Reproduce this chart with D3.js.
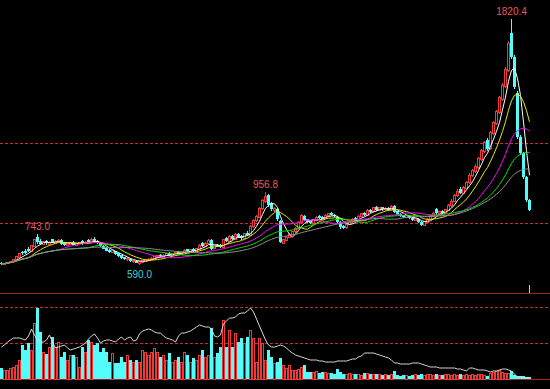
<!DOCTYPE html>
<html><head><meta charset="utf-8">
<script src="https://cdn.jsdelivr.net/npm/d3@7"></script>
<style>html,body{margin:0;padding:0;background:#000;overflow:hidden}svg{display:block}</style>
</head><body><svg id="c" width="550" height="389"></svg>
<script>
const opens=[600,595,598,603,609,618,630,656,660,672,660,685,728,712,695,712,695,718,700,706,714,700,688,694,704,690,697,712,696,716,702,722,712,700,686,674,664,652,660,648,640,628,617,622,607,612,600,604,610,614,618,622,630,640,630,638,650,640,646,656,646,654,668,658,670,660,670,698,684,698,716,672,692,690,680,724,708,736,720,745,734,724,752,740,782,812,830,872,910,938,900,862,872,812,700,714,728,742,756,772,802,836,818,808,800,816,834,830,822,838,850,842,830,806,786,776,792,806,824,812,832,852,840,866,856,880,864,878,866,874,862,886,858,846,838,828,836,826,814,820,806,790,804,818,832,870,846,860,850,864,886,908,936,972,950,974,1002,1036,1058,1080,1118,1158,1214,1172,1250,1300,1352,1420,1484,1562,1750,1630,1450,1230,1150,1030,915];
const highs=[603,602,606,612,622,635,650,662,668,678,690,720,743,722,712,716,710,722,714,720,718,704,700,706,708,702,704,716,708,722,725,728,716,703,690,678,668,665,662,650,642,632,628,624,616,614,610,616,620,624,628,636,642,644,644,650,655,652,656,660,658,668,672,670,674,676,694,704,704,718,722,690,696,694,720,728,738,740,748,750,738,752,758,790,820,838,880,920,956.8,945,906,880,876,816,722,734,748,762,780,810,846,840,822,812,822,836,840,834,846,852,856,846,836,810,790,798,812,826,828,840,852,856,868,872,882,884,882,882,880,878,890,890,862,850,842,842,840,830,826,824,810,812,826,840,856,876,862,864,872,894,918,944,968,980,984,1012,1048,1072,1094,1130,1170,1212,1226,1262,1312,1366,1434,1500,1580,1712,1820.4,1640,1460,1240,1155,1035,920];
const lows=[592,593,596,600,606,615,627,640,645,655,655,680,695,690,690,692,688,698,695,700,690,684,684,690,688,686,693,692,693,700,698,706,695,680,668,658,650,648,642,632,622,614,612,604,602,598,590,600,604,610,614,618,626,626,626,634,636,636,642,642,642,650,654,654,656,656,666,680,680,694,666,668,678,674,676,704,704,716,716,726,716,720,734,736,776,806,826,866,902,880,862,856,812,700,694,710,724,738,752,768,798,810,800,796,796,812,822,818,818,832,836,830,800,772,770,772,788,802,808,808,828,836,836,850,852,860,860,862,860,858,858,850,838,832,826,824,820,812,810,800,786,786,800,814,828,842,842,846,846,860,882,904,930,944,944,968,996,1028,1050,1072,1110,1150,1160,1166,1242,1292,1344,1410,1476,1554,1620,1470,1220,1140,1020,905,858];
const closes=[596,599,604,610,620,632,646,648,652,662,686,716,705,695,708,698,705,702,710,715,694,688,697,703,692,699,701,696,705,704,720,710,698,684,672,662,655,661,646,636,626,618,624,608,612,602,606,612,616,620,625,632,638,630,640,646,640,648,653,647,655,664,658,667,660,672,690,684,700,714,672,686,682,680,716,710,732,722,742,732,724,748,740,784,814,832,874,912,934,892,870,874,818,704,716,730,744,758,774,804,838,816,806,800,818,830,826,822,840,846,840,834,806,780,776,794,808,820,812,834,848,840,862,856,876,866,876,868,874,864,884,856,844,836,830,836,824,816,822,804,792,806,820,834,850,848,858,850,866,888,910,938,960,950,976,1004,1040,1062,1084,1122,1162,1204,1172,1254,1304,1358,1426,1490,1570,1700,1630,1480,1230,1150,1030,915,865];
const volumes=[11,9,9,11,12,14,19,34,29,36,29,56,71,47,27,25,32,42,32,37,22,27,19,24,24,22,12,32,27,39,37,34,36,27,31,27,17,26,16,16,22,17,24,19,17,19,17,29,27,24,27,31,27,22,24,19,26,17,19,22,17,27,24,17,21,19,24,29,22,24,51,22,26,32,59,32,49,32,46,37,41,36,42,49,41,17,41,36,19,29,22,16,17,21,14,11,14,9,9,10,12,14,7,7,7,8,6,7,7,6,6,5,10,7,5,5,6,5,5,5,4,6,6,5,5,5,5,4,5,4,5,8,4,3,4,4,3,4,5,4,5,4,5,5,4,5,4,4,5,5,4,5,4,5,4,5,4,5,4,5,5,4,3,6,7,8,9,7,6,6,8,4,3,3,3,2,2];
const openInterest=[32,34,37,39,41,41,41,40,39,43,50,44,39,37,37,39,44,37,31,32,33,34,31,29,30,31,32,34,36,40,43,45,41,36,38,39,39,38,37,40,42,39,41,42,38,39,45,48,49,50,49,47,46,46,43,41,40,39,37,43,46,46,47,48,50,52,54,53,52,52,50,43,42,44,55,58,61,61,62,65,66,66,68,71,67,60,53,46,39,34,32,32,33,34,33,31,28,26,24,23,22,21,20,19,19,19,18,18,17,17,17,17,18,18,18,18,19,20,20,22,23,26,26,26,26,25,24,23,22,21,19,16,16,15,15,15,15,16,16,16,15,14,13,12,12,12,11,11,11,11,11,11,10,10,9,8,11,11,10,9,9,9,8,7,8,8,9,10,10,9,8,5,2,2,1,1,1];
const maPeriods=[5,10,20,30,40];
const maColors=["#ffffff","#e8e800","#ff00ff","#00e000","#909090"];
const priceGrid=[800,1200];
const volGrid=[36,72];
const marks=[{i:12,v:743.0,t:"743.0",kind:"high"},{i:88,v:956.8,t:"956.8",kind:"high"},{i:170,v:1820.4,t:"1820.4",kind:"high"},{i:46,v:590.0,t:"590.0",kind:"low"}];

const N=closes.length;
const svg=d3.select("#c");
svg.append("rect").attr("width",550).attr("height",389).attr("fill","#000");
const x=d3.scaleLinear().domain([0,N-1]).range([1.5,529.5]);
const y=d3.scaleLinear().domain([450,1915]).range([293,0]);
const yv=d3.scaleLinear().domain([0,72]).range([379,307]);
const yo=d3.scaleLinear().domain([0,72]).range([379,307]);
const UP="#f03a3a", DN="#54fcfc";
const up=i=>closes[i]>=opens[i];
const col=i=>up(i)?UP:DN;
const idx=d3.range(N);
const cx=i=>Math.floor(x(i))+0.5;

// grid
svg.selectAll(".pg").data(priceGrid).join("line").attr("x1",0).attr("x2",550)
  .attr("y1",d=>Math.round(y(d))+0.5).attr("y2",d=>Math.round(y(d))+0.5)
  .attr("stroke","#c83030").attr("stroke-dasharray","3,2");
svg.selectAll(".vg").data(volGrid).join("line").attr("x1",0).attr("x2",550)
  .attr("y1",d=>Math.round(yv(d))+0.5).attr("y2",d=>Math.round(yv(d))+0.5)
  .attr("stroke","#c83030").attr("stroke-dasharray","3,2");
[y(450),yv(0)].forEach(v=>svg.append("line").attr("x1",0).attr("x2",550)
  .attr("y1",Math.round(v)+0.5).attr("y2",Math.round(v)+0.5).attr("stroke","#a82020"));

// candles
const cg=svg.append("g").attr("shape-rendering","crispEdges");
cg.selectAll("line").data(idx).join("line")
  .attr("x1",cx).attr("x2",cx)
  .attr("y1",i=>y(highs[i])).attr("y2",i=>y(lows[i])).attr("stroke",col);
cg.selectAll("rect").data(idx).join("rect")
  .attr("x",i=>up(i)?cx(i)-1:cx(i)-1.5).attr("width",i=>up(i)?2:3)
  .attr("y",i=>y(Math.max(opens[i],closes[i])))
  .attr("height",i=>Math.max(1,Math.abs(y(opens[i])-y(closes[i]))))
  .attr("fill",i=>up(i)?"#000":DN).attr("stroke",i=>up(i)?UP:"none");

// moving averages
const line=d3.line().x((d,i)=>x(i)).y(d=>y(d));
maPeriods.forEach((p,k)=>{
  const ma=idx.map(i=>d3.mean(closes.slice(Math.max(0,i-p+1),i+1)));
  svg.append("path").datum(ma).attr("d",line).attr("fill","none")
    .attr("stroke",maColors[k]).attr("stroke-width",1);
});

// labels
svg.selectAll(".mk").data(marks).join("text")
  .attr("x",d=>x(d.i)).attr("y",d=>d.kind==="high"?y(d.v)-4:y(d.v)+13)
  .attr("text-anchor","middle").attr("font-family","Liberation Sans, Arial, sans-serif")
  .attr("font-size",10).attr("fill",d=>d.kind==="high"?"#e85a5a":"#3cd4d4").text(d=>d.t);

// volume
const vg=svg.append("g").attr("shape-rendering","crispEdges");
vg.selectAll("rect").data(idx).join("rect")
  .attr("x",i=>up(i)?cx(i)-1:cx(i)-1.5).attr("width",i=>up(i)?2:3)
  .attr("y",i=>yv(volumes[i])).attr("height",i=>yv(0)-yv(volumes[i]))
  .attr("fill",i=>up(i)?"#000":DN).attr("stroke",i=>up(i)?UP:"none");
svg.append("path").datum(openInterest)
  .attr("d",d3.line().x((d,i)=>x(i)).y(d=>yo(d)))
  .attr("fill","none").attr("stroke","#d8d8d8").attr("stroke-width",1);

// cursor tick
svg.append("line").attr("x1",cx(N-1)).attr("x2",cx(N-1))
  .attr("y1",285).attr("y2",293).attr("stroke","#c8c8c8");
</script></body></html>
